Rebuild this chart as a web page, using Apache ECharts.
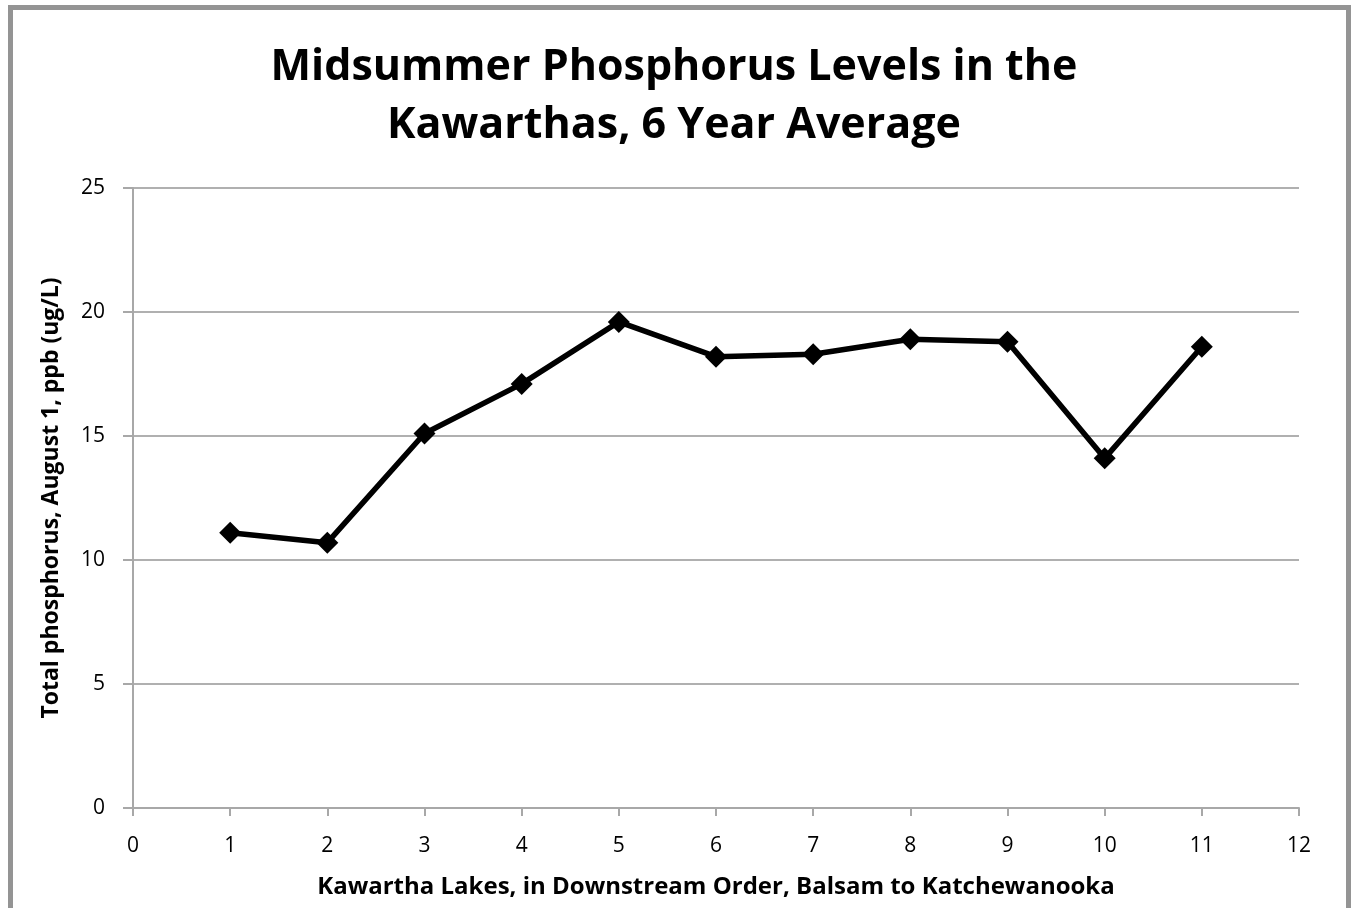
<!DOCTYPE html>
<html>
<head>
<meta charset="utf-8">
<script src="https://cdn.jsdelivr.net/npm/echarts@6/dist/echarts.min.js"></script>
<style>
  html, body { margin: 0; padding: 0; background: #fff; }
  #frame {
    position: absolute; left: 8px; top: 5px; width: 1333px; height: 910px;
    border-left: 5px solid #949494; border-top: 5px solid #949494; border-right: 5px solid #949494;
  }
  #chart { position: absolute; left: 0; top: 0; width: 1352px; height: 908px; }
</style>
</head>
<body>
<div id="frame"></div>
<div id="chart"></div>
<script>
const lakes = [1, 2, 3, 4, 5, 6, 7, 8, 9, 10, 11];
const phosphorus = [11.1, 10.7, 15.1, 17.1, 19.6, 18.2, 18.3, 18.9, 18.8, 14.1, 18.6];

const chart = echarts.init(document.getElementById("chart"));
const font = "'Open Sans', sans-serif";

chart.setOption({
  animation: false,
  title: {
    text: "Midsummer Phosphorus Levels in the\nKawarthas, 6 Year Average",
    left: 669,
    top: 34,
    textAlign: "center",
    textStyle: { fontFamily: font, fontSize: 43, fontWeight: "bold", color: "#000", lineHeight: 58 },
  },
  grid: { left: 133, right: 53, top: 188, bottom: 100 },
  xAxis: {
    type: "value",
    min: 0,
    max: 12,
    interval: 1,
    name: "Kawartha Lakes, in Downstream Order, Balsam to Katchewanooka",
    nameLocation: "middle",
    nameGap: 67,
    nameTextStyle: { fontFamily: font, fontSize: 24, fontWeight: "bold", color: "#000" },
    axisLine: { lineStyle: { color: "#a8a8a8", width: 2 } },
    axisTick: { show: true, length: 8, lineStyle: { color: "#a8a8a8", width: 2 } },
    axisLabel: { fontFamily: font, fontSize: 21, color: "#000", margin: 28 },
    splitLine: { show: false },
  },
  yAxis: {
    type: "value",
    min: 0,
    max: 25,
    interval: 5,
    name: "Total phosphorus, August 1, ppb (ug/L)",
    nameLocation: "middle",
    nameGap: 70,
    nameTextStyle: { fontFamily: font, fontSize: 23, fontWeight: "bold", color: "#000" },
    axisLine: { show: true, lineStyle: { color: "#a8a8a8", width: 2 } },
    axisTick: { show: true, length: 10, lineStyle: { color: "#a8a8a8", width: 2 } },
    axisLabel: { fontFamily: font, fontSize: 21, color: "#000", margin: 28 },
    splitLine: { lineStyle: { color: "#b0b0b0", width: 2 } },
  },
  series: [
    {
      type: "line",
      data: lakes.map((x, i) => [x, phosphorus[i]]),
      symbol: "diamond",
      symbolSize: [22, 22],
      lineStyle: { color: "#000", width: 5.5 },
      itemStyle: { color: "#000" },
    },
  ],
});
</script>
</body>
</html>
